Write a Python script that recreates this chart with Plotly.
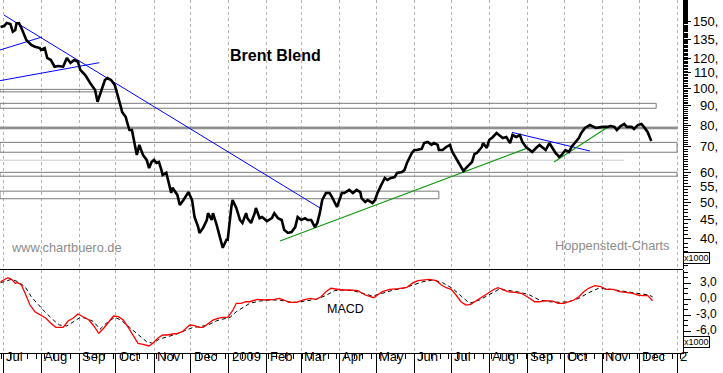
import numpy as np
import plotly.graph_objects as go

# ---------------- data ----------------
price_dates = [
    "2008-06-29", "2008-07-02", "2008-07-04", "2008-07-07", "2008-07-09", "2008-07-11", "2008-07-12",
    "2008-07-14", "2008-07-16", "2008-07-20", "2008-07-24", "2008-07-27", "2008-07-31", "2008-08-01",
    "2008-08-04", "2008-08-06", "2008-08-09", "2008-08-12", "2008-08-15", "2008-08-19", "2008-08-22",
    "2008-08-25", "2008-08-28", "2008-08-31", "2008-09-02", "2008-09-06", "2008-09-10", "2008-09-14",
    "2008-09-16", "2008-09-19", "2008-09-22", "2008-09-24", "2008-09-27", "2008-09-30", "2008-10-02",
    "2008-10-05", "2008-10-06", "2008-10-09", "2008-10-10", "2008-10-12", "2008-10-14", "2008-10-16",
    "2008-10-18", "2008-10-20", "2008-10-23", "2008-10-26", "2008-10-28", "2008-10-30", "2008-11-01",
    "2008-11-03", "2008-11-05", "2008-11-07", "2008-11-08", "2008-11-11", "2008-11-14", "2008-11-15",
    "2008-11-16", "2008-11-20", "2008-11-22", "2008-11-25", "2008-11-29", "2008-12-02", "2008-12-04",
    "2008-12-07", "2008-12-08", "2008-12-11", "2008-12-14", "2008-12-15", "2008-12-18", "2008-12-19",
    "2008-12-22", "2008-12-24", "2008-12-27", "2008-12-30", "2008-12-31", "2009-01-03", "2009-01-04",
    "2009-01-07", "2009-01-10", "2009-01-12", "2009-01-15", "2009-01-16", "2009-01-19", "2009-01-22",
    "2009-01-23", "2009-01-26", "2009-01-28", "2009-02-01", "2009-02-05", "2009-02-07", "2009-02-10",
    "2009-02-13", "2009-02-15", "2009-02-18", "2009-02-21", "2009-02-24", "2009-02-26", "2009-03-01",
    "2009-03-04", "2009-03-06", "2009-03-09", "2009-03-12", "2009-03-14", "2009-03-16", "2009-03-18",
    "2009-03-21", "2009-03-24", "2009-03-26", "2009-03-30", "2009-04-03", "2009-04-05", "2009-04-09",
    "2009-04-12", "2009-04-15", "2009-04-18", "2009-04-19", "2009-04-22", "2009-04-24", "2009-04-28",
    "2009-04-30", "2009-05-02", "2009-05-05", "2009-05-08", "2009-05-10", "2009-05-13", "2009-05-16",
    "2009-05-18", "2009-05-22", "2009-05-24", "2009-05-26", "2009-05-30", "2009-06-01", "2009-06-03",
    "2009-06-07", "2009-06-09", "2009-06-12", "2009-06-15", "2009-06-17", "2009-06-20", "2009-06-21",
    "2009-06-24", "2009-06-27", "2009-06-30", "2009-07-02", "2009-07-05", "2009-07-08", "2009-07-11",
    "2009-07-14", "2009-07-18", "2009-07-20", "2009-07-22", "2009-07-26", "2009-07-27", "2009-07-30",
    "2009-08-01", "2009-08-04", "2009-08-07", "2009-08-09", "2009-08-12", "2009-08-15", "2009-08-18",
    "2009-08-20", "2009-08-23", "2009-08-26", "2009-08-28", "2009-08-31", "2009-09-03", "2009-09-05",
    "2009-09-09", "2009-09-11", "2009-09-13", "2009-09-16", "2009-09-19", "2009-09-21", "2009-09-24",
    "2009-09-27", "2009-09-29", "2009-10-02", "2009-10-05", "2009-10-07", "2009-10-10", "2009-10-13",
    "2009-10-15", "2009-10-18", "2009-10-22", "2009-10-25", "2009-10-27", "2009-11-01", "2009-11-05",
    "2009-11-08", "2009-11-11", "2009-11-13", "2009-11-16", "2009-11-19", "2009-11-21", "2009-11-25",
    "2009-11-27", "2009-11-30", "2009-12-03", "2009-12-05", "2009-12-08", "2009-12-10", "2009-12-11",
]
price_values = [
    145.2, 146.1, 148.8, 147.9, 141.2, 142.6, 148.5,
    148.8, 144.4, 134.2, 130.2, 128.8, 127.8, 126.3,
    127.8, 120.3, 118.8, 114.1, 114.6, 114.1, 120.3,
    116.7, 118.8, 117.6, 111.8, 108.5, 103.3, 99.0,
    92.2, 98.0, 105.2, 106.5, 105.2, 102.1, 97.2,
    89.4, 86.6, 84.0, 81.5, 77.6, 77.6, 72.2,
    66.7, 70.9, 66.7, 64.7, 61.6, 63.9, 64.7,
    63.5, 63.9, 60.9, 59.0, 59.8, 54.9, 52.9,
    54.6, 52.3, 49.2, 50.7, 53.2, 50.7, 45.7,
    43.0, 41.5, 42.8, 44.9, 46.8, 44.9, 46.8,
    43.6, 41.0, 37.9, 39.8, 39.8, 48.6, 50.7,
    48.3, 44.9, 44.1, 46.8, 45.4, 44.1, 46.8,
    48.3, 45.4, 45.7, 44.6, 45.4, 46.8, 45.4,
    44.9, 42.3, 41.5, 41.7, 43.0, 45.7, 44.9,
    45.4, 44.9, 44.9, 43.0, 44.1, 46.8, 50.7,
    52.9, 52.9, 51.6, 48.6, 52.9, 52.9, 53.9,
    52.9, 53.9, 53.2, 51.3, 50.1, 50.7, 49.8,
    50.7, 52.9, 55.5, 58.0, 57.3, 58.0, 58.3,
    59.8, 60.1, 60.9, 63.5, 67.5, 68.7, 68.7,
    69.2, 71.7, 72.2, 70.9, 71.7, 70.9, 68.7,
    68.7, 70.0, 70.9, 67.9, 65.5, 62.7, 60.5,
    62.0, 63.9, 67.1, 67.5, 70.0, 71.7, 69.6,
    73.0, 74.4, 76.2, 75.3, 73.9, 74.4, 71.7,
    75.3, 74.4, 75.3, 72.2, 70.0, 68.7, 67.9,
    70.0, 70.9, 70.0, 68.7, 71.7, 70.0, 67.5,
    65.9, 66.7, 68.7, 67.9, 70.0, 71.7, 73.9,
    76.2, 78.6, 80.0, 79.1, 78.6, 79.1, 79.1,
    79.5, 79.1, 77.6, 79.5, 80.5, 79.1, 79.1,
    78.1, 80.0, 80.5, 79.1, 76.7, 73.9, 72.6,
]

macd_dates = [
    "2008-06-29", "2008-07-02", "2008-07-05", "2008-07-08", "2008-07-11", "2008-07-13", "2008-07-16",
    "2008-07-19", "2008-07-23", "2008-07-27", "2008-07-31", "2008-08-05", "2008-08-09", "2008-08-13",
    "2008-08-19", "2008-08-23", "2008-08-27", "2008-08-31", "2008-09-05", "2008-09-09", "2008-09-13",
    "2008-09-17", "2008-09-21", "2008-09-25", "2008-09-29", "2008-10-03", "2008-10-07", "2008-10-11",
    "2008-10-15", "2008-10-19", "2008-10-23", "2008-10-28", "2008-10-31", "2008-11-04", "2008-11-08",
    "2008-11-12", "2008-11-16", "2008-11-20", "2008-11-24", "2008-11-27", "2008-11-30", "2008-12-04",
    "2008-12-08", "2008-12-11", "2008-12-15", "2008-12-19", "2008-12-23", "2008-12-27", "2008-12-31",
    "2009-01-04", "2009-01-07", "2009-01-11", "2009-01-15", "2009-01-18", "2009-01-24", "2009-01-31",
    "2009-02-07", "2009-02-11", "2009-02-15", "2009-02-19", "2009-02-25", "2009-03-02", "2009-03-08",
    "2009-03-13", "2009-03-17", "2009-03-21", "2009-03-25", "2009-03-29", "2009-04-03", "2009-04-09",
    "2009-04-16", "2009-04-22", "2009-04-29", "2009-05-02", "2009-05-06", "2009-05-12", "2009-05-19",
    "2009-05-26", "2009-05-31", "2009-06-04", "2009-06-09", "2009-06-13", "2009-06-19", "2009-06-23",
    "2009-06-27", "2009-07-01", "2009-07-05", "2009-07-09", "2009-07-13", "2009-07-17", "2009-07-21",
    "2009-07-27", "2009-07-31", "2009-08-04", "2009-08-08", "2009-08-12", "2009-08-16", "2009-08-22",
    "2009-08-27", "2009-09-01", "2009-09-07", "2009-09-11", "2009-09-16", "2009-09-22", "2009-09-26",
    "2009-10-01", "2009-10-05", "2009-10-09", "2009-10-13", "2009-10-17", "2009-10-21", "2009-10-26",
    "2009-10-31", "2009-11-04", "2009-11-10", "2009-11-15", "2009-11-20", "2009-11-26", "2009-11-30",
    "2009-12-04", "2009-12-08", "2009-12-12",
]
macd_values = [
    3.24, 3.56, 3.99, 3.69, 2.94, 3.06, 2.63,
    1.07, -1.13, -2.38, -3.0, -3.62, -4.56, -5.31,
    -5.31, -4.13, -3.62, -2.81, -3.43, -3.94, -5.06,
    -6.43, -5.49, -4.26, -3.19, -3.32, -3.94, -5.31,
    -6.75, -8.31, -8.49, -8.81, -8.31, -7.37, -6.75,
    -6.75, -6.56, -6.43, -6.13, -5.49, -4.88, -5.01,
    -5.31, -5.31, -4.56, -3.94, -3.62, -3.43, -3.43,
    -2.19, -0.81, -0.81, -0.51, -0.51, -0.06, -0.19,
    -0.06, 0.13, -0.19, -0.62, -0.62, -0.19, 0.13,
    -0.06, 0.43, 1.37, 2.01, 1.82, 1.69, 1.69,
    1.56, 0.75, 0.24, 0.75, 1.37, 1.82, 1.93,
    2.19, 3.06, 3.43, 3.56, 3.69, 3.43, 2.63,
    2.12, 1.82, 0.75, -0.51, -1.13, -0.99, -0.38,
    0.43, 1.07, 1.69, 2.12, 1.82, 1.37, 1.26,
    1.07, 0.43, -0.51, -0.51, -0.32, -0.38, -0.81,
    -0.81, -0.56, -0.19, 0.43, 1.37, 2.01, 2.49,
    2.31, 1.82, 1.82, 1.37, 1.26, 1.07, 0.75,
    0.62, 0.69, -0.32,
]

signal_dates = [
    "2008-06-29", "2008-07-04", "2008-07-08", "2008-07-13", "2008-07-19", "2008-07-24", "2008-07-30",
    "2008-08-04", "2008-08-11", "2008-08-16", "2008-08-22", "2008-08-27", "2008-09-02", "2008-09-07",
    "2008-09-13", "2008-09-18", "2008-09-23", "2008-09-30", "2008-10-05", "2008-10-12", "2008-10-19",
    "2008-10-26", "2008-10-31", "2008-11-05", "2008-11-12", "2008-11-19", "2008-11-26", "2008-12-03",
    "2008-12-08", "2008-12-15", "2008-12-22", "2008-12-29", "2009-01-02", "2009-01-07", "2009-01-14",
    "2009-01-18", "2009-01-26", "2009-02-03", "2009-02-11", "2009-02-18", "2009-02-25", "2009-03-05",
    "2009-03-13", "2009-03-20", "2009-03-28", "2009-04-04", "2009-04-12", "2009-04-20", "2009-04-28",
    "2009-05-06", "2009-05-15", "2009-05-23", "2009-05-31", "2009-06-08", "2009-06-16", "2009-06-24",
    "2009-07-02", "2009-07-10", "2009-07-16", "2009-07-24", "2009-08-01", "2009-08-09", "2009-08-18",
    "2009-08-26", "2009-09-03", "2009-09-11", "2009-09-19", "2009-09-27", "2009-10-05", "2009-10-13",
    "2009-10-21", "2009-10-29", "2009-11-06", "2009-11-15", "2009-11-23", "2009-12-01", "2009-12-09",
    "2009-12-12",
]
signal_values = [
    3.06, 3.43, 3.69, 3.24, 2.31, 0.43, -1.13,
    -2.38, -3.94, -4.88, -5.06, -4.26, -3.43, -3.62,
    -4.26, -5.68, -4.56, -3.43, -3.94, -5.31, -6.75,
    -8.01, -8.31, -7.56, -7.07, -6.62, -5.94, -5.31,
    -5.19, -4.88, -4.07, -3.62, -3.43, -2.38, -1.44,
    -0.81, -0.38, -0.19, -0.19, -0.51, -0.62, -0.32,
    -0.06, 0.56, 1.56, 1.69, 1.56, 1.07, 0.56,
    1.07, 1.69, 2.01, 2.63, 3.24, 3.56, 3.06,
    2.01, 0.43, -0.81, -0.19, 0.75, 1.82, 1.56,
    1.26, 0.75, -0.19, -0.51, -0.62, -0.51, 0.13,
    1.18, 2.01, 1.88, 1.56, 1.26, 0.94, 0.75,
    0.43,
]

# trend lines (start/end date, start/end price)
blue_x = [["2008-07-01 19:00", "2009-03-16 05:00"],
          ["2008-06-28 13:22", "2008-08-01 19:00"],
          ["2008-06-28 13:22", "2008-09-17 10:00"],
          ["2009-08-19 14:00", "2009-10-22 03:00"]]
blue_y = [[156.2, 48.3], [126.3, 136.7], [104.8, 116.9], [76.5, 68.3]]
green_x = [["2009-02-11 14:00", "2009-09-01 14:00"],
           ["2009-09-22 19:00", "2009-11-08 05:00"]]
green_y = [[39.5, 69.6], [63.9, 80.0]]

# support / resistance zones: start, end, low, high
zone_x0 = ["2008-06-28 13:22"] * 6
zone_x1 = ["2008-10-02", "2009-12-15", "2010-01-01", "2010-01-01", "2010-01-01", "2009-06-21"]
zone_lo = [97.9, 88.6, 78.2, 67.8, 58.6, 51.1]
zone_hi = [99.4, 91.3, 79.0, 72.0, 60.0, 53.5]
zone_filled = [False, False, True, False, False, False]
line_level = 64.6
line_level_end = "2009-11-19"

price_ticks = [150, 135, 120, 110, 100, 90, 80, 70, 60, 55, 50, 45, 40]
price_ticktext = ["150,", "135,", "120,", "110,", "100,", "90,", "80,", "70,", "60,", "55,", "50,", "45,", "40,"]
macd_ticks = [3, 0, -3, -6]
macd_ticktext = ["3,0", "0,0", "-3,0", "-6,0"]
month_dates = ["2008-07-01", "2008-08-01", "2008-09-01", "2008-10-01", "2008-11-01", "2008-12-01",
               "2009-01-01", "2009-02-01", "2009-03-01", "2009-04-01", "2009-05-01", "2009-06-01",
               "2009-07-01", "2009-08-01", "2009-09-01", "2009-10-01", "2009-11-01", "2009-12-01",
               "2010-01-01"]
month_labels = ["Jul", "Aug", "Sep", "Oct", "Nov", "Dec", "2009", "Feb", "Mar", "Apr", "May", "Jun",
                "Jul", "Aug", "Sep", "Oct", "Nov", "Dec", "2"]

# ---------------- figure ----------------
FONT = "Liberation Sans, Arial, sans-serif"
W, H = 723, 373
ML, MR, MT, MB = 0, 40, 0, 20
PH = H - MT - MB          # plot height in px
PW = W - ML - MR

def py(px):  # pixel row -> paper y
    return (H - MB - px) / PH

def pxr(px):  # pixel col -> paper x
    return (px - ML) / PW

fig = go.Figure()

# zones
for x0, x1, lo, hi, filled in zip(zone_x0, zone_x1, zone_lo, zone_hi, zone_filled):
    fig.add_shape(type="rect", xref="x", yref="y", x0=x0, x1=x1, y0=lo, y1=hi,
                  line=dict(color="#808080" if filled else "#7a7a7a", width=1),
                  fillcolor="#a8a8a8" if filled else "rgba(0,0,0,0)", layer="between")
fig.add_shape(type="line", xref="x", yref="y", x0=zone_x0[0], x1=line_level_end,
              y0=line_level, y1=line_level, line=dict(color="#c8c8c8", width=1), layer="between")

# trend lines
for xs, ys in zip(blue_x, blue_y):
    fig.add_trace(go.Scatter(x=xs, y=ys, mode="lines", line=dict(color="#0000ff", width=1),
                             xaxis="x", yaxis="y", hoverinfo="skip", showlegend=False))
for xs, ys in zip(green_x, green_y):
    fig.add_trace(go.Scatter(x=xs, y=ys, mode="lines", line=dict(color="#109a10", width=1.2),
                             xaxis="x", yaxis="y", hoverinfo="skip", showlegend=False))

# price
fig.add_trace(go.Scatter(x=price_dates, y=price_values, mode="lines",
                         line=dict(color="black", width=2.6), xaxis="x", yaxis="y",
                         hoverinfo="skip", showlegend=False))

# MACD
fig.add_trace(go.Scatter(x=signal_dates, y=signal_values, mode="lines",
                         line=dict(color="black", width=1, dash="4px,3px"), xaxis="x", yaxis="y2",
                         hoverinfo="skip", showlegend=False))
fig.add_trace(go.Scatter(x=macd_dates, y=macd_values, mode="lines",
                         line=dict(color="#ff0000", width=1.3), xaxis="x", yaxis="y2",
                         hoverinfo="skip", showlegend=False))

# panel separator
fig.add_shape(type="line", xref="paper", yref="paper", x0=0, x1=1, y0=py(269.5), y1=py(269.5),
              line=dict(color="black", width=1))

ann = []
ann.append(dict(text="<b>Brent Blend</b>", xref="paper", yref="paper", x=pxr(275), y=py(45),
                showarrow=False, font=dict(family=FONT, size=16, color="black")))
ann.append(dict(text="www.chartbuero.de", xref="paper", yref="paper", x=pxr(9), y=py(257),
                xanchor="left", showarrow=False, font=dict(family=FONT, size=12.8, color="#8c8c8c")))
ann.append(dict(text="Hoppenstedt-Charts", xref="paper", yref="paper", x=pxr(672), y=py(255),
                xanchor="right", showarrow=False, font=dict(family=FONT, size=12.8, color="#8c8c8c")))
ann.append(dict(text="MACD", xref="paper", yref="paper", x=pxr(345), y=py(318),
                showarrow=False, font=dict(family=FONT, size=12.5, color="black")))
for v, t in zip(price_ticks, price_ticktext):
    ann.append(dict(text=t, xref="paper", yref="y", x=pxr(720), y=np.log10(v), xanchor="right",
                    showarrow=False, font=dict(family=FONT, size=13, color="black")))
for v, t in zip(macd_ticks, macd_ticktext):
    ann.append(dict(text=t, xref="paper", yref="y2", x=pxr(718), y=v, xanchor="right", yshift=1,
                    showarrow=False, borderpad=0, font=dict(family=FONT, size=12, color="black")))
for d, t in zip(month_dates, month_labels):
    ann.append(dict(text=t, xref="x", yref="paper", x=d, y=py(366), xanchor="left", xshift=1,
                    showarrow=False, font=dict(family=FONT, size=13, color="black")))
for yy in (263.5, 347.5):
    ann.append(dict(text="x1000", xref="paper", yref="paper", x=1.0, y=py(yy), xanchor="left",
                    showarrow=False, bordercolor="black", borderwidth=1, borderpad=0,
                    bgcolor="white", font=dict(family=FONT, size=9, color="black")))

top_lo, top_hi = 33.32, 171.2
fig.update_layout(
    width=W, height=H, margin=dict(l=ML, r=MR, t=MT, b=MB, pad=0),
    paper_bgcolor="white", plot_bgcolor="white", showlegend=False,
    annotations=ann,
    xaxis=dict(type="date", range=["2008-06-28 13:22", "2010-01-05 20:10"], anchor="y2",
               showgrid=True, gridcolor="#b4b4b4", griddash="3px,3px", gridwidth=1,
               tick0="2008-07-01", dtick="M1", ticks="outside", ticklen=20, tickcolor="black",
               tickwidth=1, showticklabels=False, showline=True, linecolor="black", linewidth=1,
               zeroline=False,
               minor=dict(tick0="2008-07-07", dtick=7 * 86400000, ticks="outside", ticklen=5,
                          tickcolor="black", showgrid=False)),
    yaxis=dict(type="log", range=[np.log10(top_lo), np.log10(top_hi)], domain=[py(269), 1],
               anchor="x", side="right", showgrid=False, zeroline=False, showline=True,
               linecolor="black", linewidth=1, tickmode="array", tickvals=price_ticks,
               showticklabels=False, ticks="outside", ticklen=7, tickcolor="black",
               minor=dict(tickmode="array", tickvals=list(range(34, 172)), ticks="outside",
                          ticklen=4, tickcolor="black", showgrid=False)),
    yaxis2=dict(range=[-10.125, 5.44], domain=[0, py(270)], anchor="x", side="right",
                showgrid=False, zeroline=False, showline=True, linecolor="black", linewidth=1,
                tickmode="array", tickvals=macd_ticks, showticklabels=False, ticks="outside",
                ticklen=7, tickcolor="black",
                minor=dict(tickmode="array", tickvals=list(range(-10, 6)), ticks="outside",
                           ticklen=4, tickcolor="black", showgrid=False)),
)

fig.write_html("out.html", config={"displayModeBar": False},
               post_script="document.body.style.margin='0';document.body.style.overflow='hidden';")
